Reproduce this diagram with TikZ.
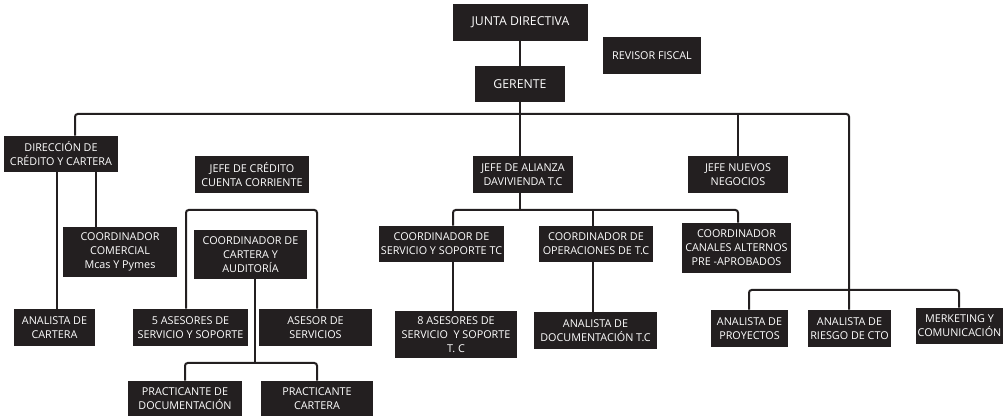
\documentclass[tikz,border=0pt]{standalone}
\usepackage{fontspec}
\setmainfont{Open Sans}
\definecolor{boxc}{HTML}{231F20}
\newcommand\bx[7][]{\node[box, #1, minimum width={(#5-#3)*0.75pt}, minimum height={(#6-#4)*0.75pt}] (#2) at ({(#3+#5)/2},{(#4+#6)/2}) {#7};}
\begin{document}
\begin{tikzpicture}[x=0.75pt,y=-0.75pt,
  box/.style={fill=boxc, text=white, inner sep=0pt, align=center, font=\fontsize{8.1}{10.5}\selectfont},
  big/.style={font=\fontsize{9.2}{11}\selectfont},
  conn/.style={draw=boxc, line width=1.5pt, rounded corners=2pt}]
\useasboundingbox (0,0) rectangle (1008,416);
% boxes
\bx[big]{junta}{453}{4}{588}{41}{JUNTA DIRECTIVA}
\bx{revisor}{603}{37}{701}{74}{REVISOR FISCAL}
\bx[big]{gerente}{475}{66}{565}{102}{GERENTE}
\bx{dir}{4}{136}{118}{172}{DIRECCIÓN DE\\CRÉDITO Y CARTERA}
\bx{jcred}{195}{156}{309}{193}{JEFE DE CRÉDITO\\CUENTA CORRIENTE}
\bx{alianza}{473}{156}{573}{193}{JEFE DE ALIANZA\\DAVIVIENDA T.C}
\bx{nuevos}{688}{156}{788}{193}{JEFE NUEVOS\\NEGOCIOS}
\bx{comer}{63}{227}{177}{277}{COORDINADOR\\COMERCIAL\\Mcas Y Pymes}
\bx{coordcart}{194}{230}{307}{279}{COORDINADOR DE\\CARTERA Y\\AUDITORÍA}
\bx{coordserv}{379}{226}{504}{262}{COORDINADOR DE\\SERVICIO Y SOPORTE TC}
\bx{coordop}{539}{226}{653}{262}{COORDINADOR DE\\OPERACIONES DE T.C}
\bx{canales}{682}{223}{791}{273}{COORDINADOR\\CANALES ALTERNOS\\PRE -APROBADOS}
\bx{anacart}{14}{309}{95}{346}{ANALISTA DE\\CARTERA}
\bx{ases5}{133}{309}{248}{346}{5 ASESORES DE\\SERVICIO Y SOPORTE}
\bx{asesserv}{259}{309}{372}{346}{ASESOR DE\\SERVICIOS}
\bx{ases8}{395}{311}{517}{358}{8 ASESORES DE\\SERVICIO\ \ Y SOPORTE\\T. C}
\bx{anadoc}{534}{312}{657}{349}{ANALISTA DE\\DOCUMENTACIÓN T.C}
\bx{proy}{711}{310}{788}{347}{ANALISTA DE\\PROYECTOS}
\bx{riesgo}{808}{310}{891}{347}{ANALISTA DE\\RIESGO DE CTO}
\bx{merk}{916}{308}{1003}{344}{MERKETING Y\\COMUNICACIÓN}
\bx{pracdoc}{128}{381}{242}{416}{PRACTICANTE DE\\DOCUMENTACIÓN}
\bx{praccart}{261}{381}{373}{416}{PRACTICANTE\\CARTERA}
% coordinates
\coordinate (gx) at (520,114);
\coordinate (bl) at (75,114);
\coordinate (br) at (849,114);
\coordinate (d1) at (57,0);
\coordinate (d2) at (96,0);
\coordinate (k1) at (186,210);
\coordinate (k2) at (317,210);
\coordinate (p1) at (185,363);
\coordinate (p2) at (317,363);
\coordinate (pv) at (255,363);
\coordinate (a0) at (520,210);
\coordinate (a1) at (453,210);
\coordinate (a2) at (593,210);
\coordinate (a3) at (738,210);
\coordinate (n1) at (749,290);
\coordinate (n3) at (959,290);
% connectors
\draw[conn] (junta.south -| gx) -- (gerente.north -| gx);
\draw[conn] (gerente.south -| gx) -- (gx);
\draw[conn] (bl |- dir.north) -- (bl) -- (br) -- (br |- riesgo.north);
\draw[conn] (alianza.north -| gx) -- (gx);
\draw[conn] (nuevos.north) -- (nuevos.north |- bl);
\draw[conn] (dir.south -| d1) -- (anacart.north -| d1);
\draw[conn] (dir.south -| d2) -- (comer.north -| d2);
\draw[conn] (ases5.north -| k1) -- (k1) -- (k2) -- (asesserv.north -| k2);
\draw[conn] (coordcart.south -| pv) -- (pv);
\draw[conn] (pracdoc.north -| p1) -- (p1) -- (p2) -- (praccart.north -| p2);
\draw[conn] (alianza.south -| a0) -- (a0);
\draw[conn] (coordserv.north -| a1) -- (a1) -- (a3) -- (canales.north -| a3);
\draw[conn] (a2) -- (coordop.north -| a2);
\draw[conn] (coordserv.south -| a1) -- (ases8.north -| a1);
\draw[conn] (coordop.south -| a2) -- (anadoc.north -| a2);
\draw[conn] (proy.north -| n1) -- (n1) -- (n3) -- (merk.north -| n3);
\end{tikzpicture}
\end{document}
